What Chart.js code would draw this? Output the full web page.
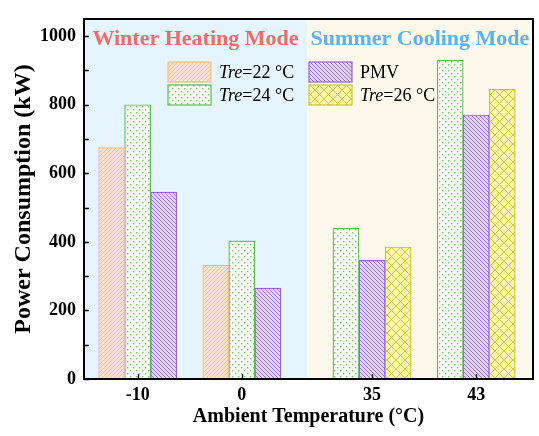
<!DOCTYPE html>
<html>
<head>
<meta charset="utf-8">
<script src="https://cdn.jsdelivr.net/npm/chart.js@4/dist/chart.umd.min.js"></script>
<style>
  html, body { margin: 0; padding: 0; background: #fff; }
</style>
</head>
<body>
<canvas id="myChart" width="539" height="436"></canvas>
<script>
// data
const temps = ['-10', '0', '35', '43'];
const seriesNames = ['Tre=22 °C', 'Tre=24 °C', 'PMV', 'Tre=26 °C'];
const tre22 = [675, 332, null, null];
const tre24 = [800, 403, 440, 930];
const pmv = [545, 265, 346, 770];
const tre26 = [null, null, 385, 845];
const modeLabels = ['Winter Heating Mode', 'Summer Cooling Mode'];
const yLabelTicks = [0, 200, 400, 600, 800, 1000];

const chart = document.querySelector('#myChart');
const serif = "'Liberation Serif', 'Times New Roman', serif";

// fill patterns
function makePattern(bg, fg, kind) {
    const s = kind === 'cross' ? 9 : (kind === 'dots' ? 6 : 4);
    const c = document.createElement('canvas');
    c.width = s; c.height = s;
    const g = c.getContext('2d');
    g.fillStyle = bg;
    g.fillRect(0, 0, s, s);
    g.strokeStyle = fg;
    g.fillStyle = fg;
    g.lineWidth = 1;
    function slash() {
        g.beginPath();
        g.moveTo(-1, s + 1); g.lineTo(s + 1, -1);
        g.moveTo(-1, 1); g.lineTo(1, -1);
        g.moveTo(s - 1, s + 1); g.lineTo(s + 1, s - 1);
        g.stroke();
    }
    function back() {
        g.beginPath();
        g.moveTo(-1, -1); g.lineTo(s + 1, s + 1);
        g.moveTo(s - 1, -1); g.lineTo(s + 1, 1);
        g.moveTo(-1, s - 1); g.lineTo(1, s + 1);
        g.stroke();
    }
    if (kind === 'slash') slash();
    if (kind === 'back') back();
    if (kind === 'cross') { slash(); back(); }
    if (kind === 'dots') {
        g.fillRect(1, 1, 1.4, 1.4);
        g.fillRect(4, 4, 1.4, 1.4);
    }
    return g.createPattern(c, 'repeat');
}

const styles = [
    { fill: makePattern('#fce4ca', '#f0c499', 'slash'), border: '#f2bd8c' },
    { fill: makePattern('#f6fcf3', '#7cc46c', 'dots'), border: '#5cbb4c' },
    { fill: makePattern('#e6d6f6', '#9870cb', 'back'), border: '#9563cc' },
    { fill: makePattern('#fbf7a6', '#cfc84a', 'cross'), border: '#c9c234' }
];
const seriesValues = [tre22, tre24, pmv, tre26];

// 4 slots per group; tick sits at the centre of the bars that exist
const slotOffset = i => (i - 1.5) / 4;
const tickPos = temps.map((t, k) => {
    const present = seriesValues.map((v, i) => v[k] !== null ? slotOffset(i) : null).filter(v => v !== null);
    return k + present.reduce((a, b) => a + b, 0) / present.length;
});

const datasets = seriesValues.map((vals, i) => ({
    label: seriesNames[i],
    data: vals.map((v, k) => ({ x: k, y: v })).filter(p => p.y !== null),
    backgroundColor: styles[i].fill,
    borderColor: styles[i].border,
    borderWidth: 1.2,
    borderSkipped: 'bottom',
    categoryPercentage: 1,
    barPercentage: 1
}));

function drawLegendLabel(ctx, text, x, y) {
    ctx.textBaseline = 'middle';
    ctx.textAlign = 'left';
    if (text.startsWith('Tre')) {
        ctx.font = 'italic 18px ' + serif;
        ctx.fillText('Tre', x, y);
        const w = ctx.measureText('Tre').width;
        ctx.font = '18px ' + serif;
        ctx.fillText(text.slice(3), x + w, y);
    } else {
        ctx.font = '18px ' + serif;
        ctx.fillText(text, x, y);
    }
}

const decor = {
    id: 'decor',
    beforeDatasetsDraw(c) {
        const { ctx, chartArea: a, scales: { x } } = c;
        const split = x.getPixelForValue(1.5);
        ctx.save();
        ctx.fillStyle = '#e6f4fd';
        ctx.fillRect(a.left, a.top, split - a.left, a.height);
        ctx.fillStyle = '#fcf9ec';
        ctx.fillRect(split, a.top, a.right - split, a.height);
        ctx.restore();
    },
    afterDatasetsDraw(c) {
        const { ctx, chartArea: a, scales: { x, y } } = c;
        const split = x.getPixelForValue(1.5);
        ctx.save();
        // inward ticks
        ctx.strokeStyle = '#000';
        ctx.lineWidth = 1.3;
        ctx.beginPath();
        y.ticks.forEach(t => {
            const py = Math.round(y.getPixelForValue(t.value)) + 0.5;
            ctx.moveTo(a.left, py); ctx.lineTo(a.left + 5, py);
        });
        x.ticks.forEach(t => {
            const px = Math.round(x.getPixelForValue(t.value)) + 0.5;
            ctx.moveTo(px, a.bottom); ctx.lineTo(px, a.bottom - 5);
        });
        ctx.stroke();
        // frame
        ctx.lineWidth = 2;
        ctx.strokeRect(a.left, a.top, a.right - a.left, a.bottom - a.top);

        // mode labels
        ctx.font = 'bold 22px ' + serif;
        ctx.textAlign = 'center';
        ctx.textBaseline = 'middle';
        ctx.fillStyle = '#ef6b6b';
        ctx.fillText(modeLabels[0], (a.left + split) / 2, a.top + 20);
        ctx.fillStyle = '#5ab2ee';
        ctx.fillText(modeLabels[1], (split + a.right) / 2, a.top + 20);

        // legend, 2 x 2
        const order = [0, 2, 1, 3];
        order.forEach((ds, n) => {
            const col = n % 2, row = Math.floor(n / 2);
            const bx = a.left + 84 + col * 141;
            const by = a.top + 43 + row * 23;
            ctx.fillStyle = styles[ds].fill;
            ctx.fillRect(bx, by, 43, 20);
            ctx.strokeStyle = styles[ds].border;
            ctx.lineWidth = 1.2;
            ctx.strokeRect(bx, by, 43, 20);
            ctx.fillStyle = '#000';
            drawLegendLabel(ctx, seriesNames[ds], bx + 51, by + 11);
        });
        ctx.restore();
    }
};

Chart.defaults.font.family = serif;
Chart.defaults.color = '#000';

new Chart(chart, {
    type: 'bar',
    data: { datasets: datasets },
    options: {
        responsive: false,
        animation: false,
        devicePixelRatio: 1,
        layout: { padding: { top: 19, right: 6, left: 0, bottom: 0 } },
        plugins: { legend: { display: false }, tooltip: { enabled: false } },
        scales: {
            x: {
                type: 'linear',
                offset: false,
                min: -0.64,
                max: 3.67,
                grid: { display: false, drawTicks: false },
                border: { display: false },
                afterBuildTicks: (s) => { s.ticks = tickPos.map(v => ({ value: v })); },
                afterFit: (s) => { s.height = 57; },
                ticks: {
                    autoSkip: false,
                    maxRotation: 0,
                    padding: 6,
                    font: { size: 18, weight: 'bold' },
                    callback: (v, i) => temps[i]
                },
                title: {
                    display: true,
                    text: 'Ambient Temperature (°C)',
                    font: { size: 20, weight: 'bold' },
                    padding: { top: 0, bottom: 7 }
                }
            },
            y: {
                min: 0,
                max: 1050,
                grid: { display: false, drawTicks: false },
                border: { display: false },
                afterFit: (s) => { s.width = 84; },
                ticks: {
                    stepSize: 100,
                    includeBounds: false,
                    autoSkip: false,
                    padding: 8,
                    font: { size: 18, weight: 'bold' },
                    callback: (v) => yLabelTicks.includes(v) ? v : ''
                },
                title: {
                    display: true,
                    text: 'Power Consumption (kW)',
                    font: { size: 24, weight: 'bold' },
                    padding: { top: 9, bottom: 0 }
                }
            }
        }
    },
    plugins: [decor]
});
</script>
</body>
</html>
